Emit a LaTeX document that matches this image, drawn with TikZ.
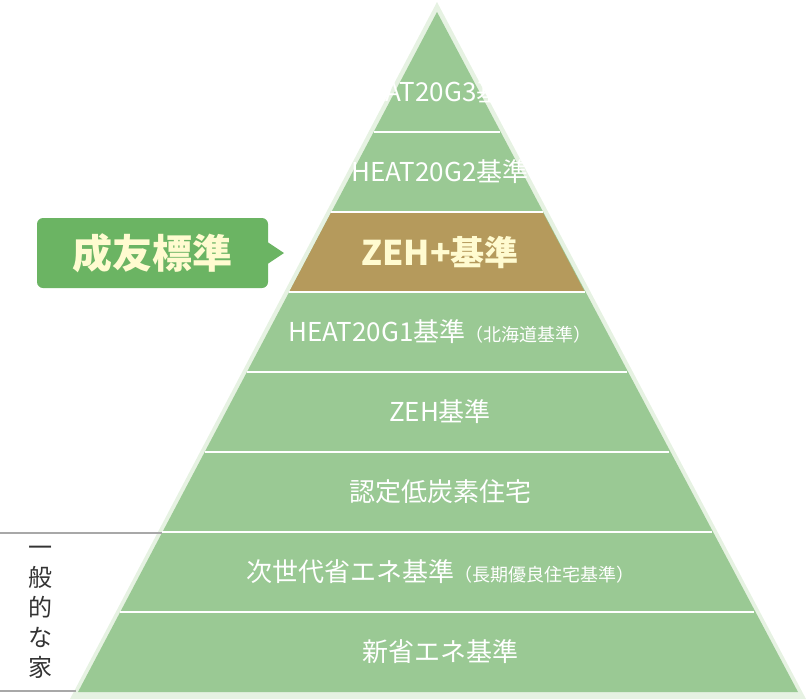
\documentclass[tikz,border=0pt]{standalone}
\usepackage{fontspec}
\setmainfont{Noto Sans CJK JP}
\newfontfamily\jpb{Noto Sans CJK JP}[BoldFont={* Bold}]
\definecolor{gfill}{HTML}{9AC994}
\definecolor{gedge}{HTML}{E6F2E2}
\definecolor{gold}{HTML}{B59A5C}
\definecolor{callg}{HTML}{6BB463}
\definecolor{cream}{HTML}{FFFBD0}
\definecolor{gline}{HTML}{A8A8A8}
\begin{document}
\begin{tikzpicture}[x=1pt,y=-1pt,
  lbl/.style={text=white,font=\fontsize{26}{28}\selectfont,inner sep=0},
  sep/.style={white,line width=2pt}]
\useasboundingbox (0,0) rectangle (811,699);
\coordinate (apex) at (437,12);
\coordinate (bl) at (78,692);
\coordinate (br) at (798,692);
\fill[gedge] (437,2) -- (70,699) -- (806,699) -- cycle;
\fill[gfill] (apex) -- (bl) -- (br) -- cycle;
% gold band between y=213 and 292, slope 0.528
\fill[gold] ({437-0.528*201},213) -- ({437+0.528*201},213) -- ({437+0.528*280},292) -- ({437-0.528*280},292) -- cycle;
\foreach \y in {132,212,292,372,452,532,612}{
  \draw[sep] ({437-0.528*(\y-12)},\y) -- ({437+0.528*(\y-12)},\y);}
\node[lbl] (l1) at (440,92) {HEAT20G3基準};
\node[lbl] (l2) at (440,172) {HEAT20G2基準};
\node[inner sep=0,text=cream,font=\fontsize{34}{36}\selectfont\bfseries] (l3) at (440,252) {ZEH+基準};
\node[lbl] (l4) at (440,332) {HEAT20G1基準{\fontsize{18}{20}\selectfont（北海道基準）}};
\node[lbl] (l5) at (440,412) {ZEH基準};
\node[lbl] (l6) at (440,492) {認定低炭素住宅};
\node[lbl] (l7) at (440,572) {次世代省エネ基準{\fontsize{18}{20}\selectfont（長期優良住宅基準）}};
\node[lbl] (l8) at (440,652) {新省エネ基準};
% callout
\fill[callg,rounded corners=6pt] (37,218) rectangle (268,288);
\fill[callg] (266,241) -- (284,253) -- (266,265) -- cycle;
\node[inner sep=0,text=cream,font=\fontsize{40}{42}\selectfont\bfseries] (call) at (152,253) {成友標準};
% general house
\draw[gline,line width=1.5pt] (0,533) -- (162,533);
\draw[gline,line width=1.5pt] (0,691) -- (76,691);
\node[text=black!80,font=\fontsize{24}{30}\selectfont,align=center,inner sep=0] (gen) at (40,612) {一\\般\\的\\な\\家};
\end{tikzpicture}
\end{document}
